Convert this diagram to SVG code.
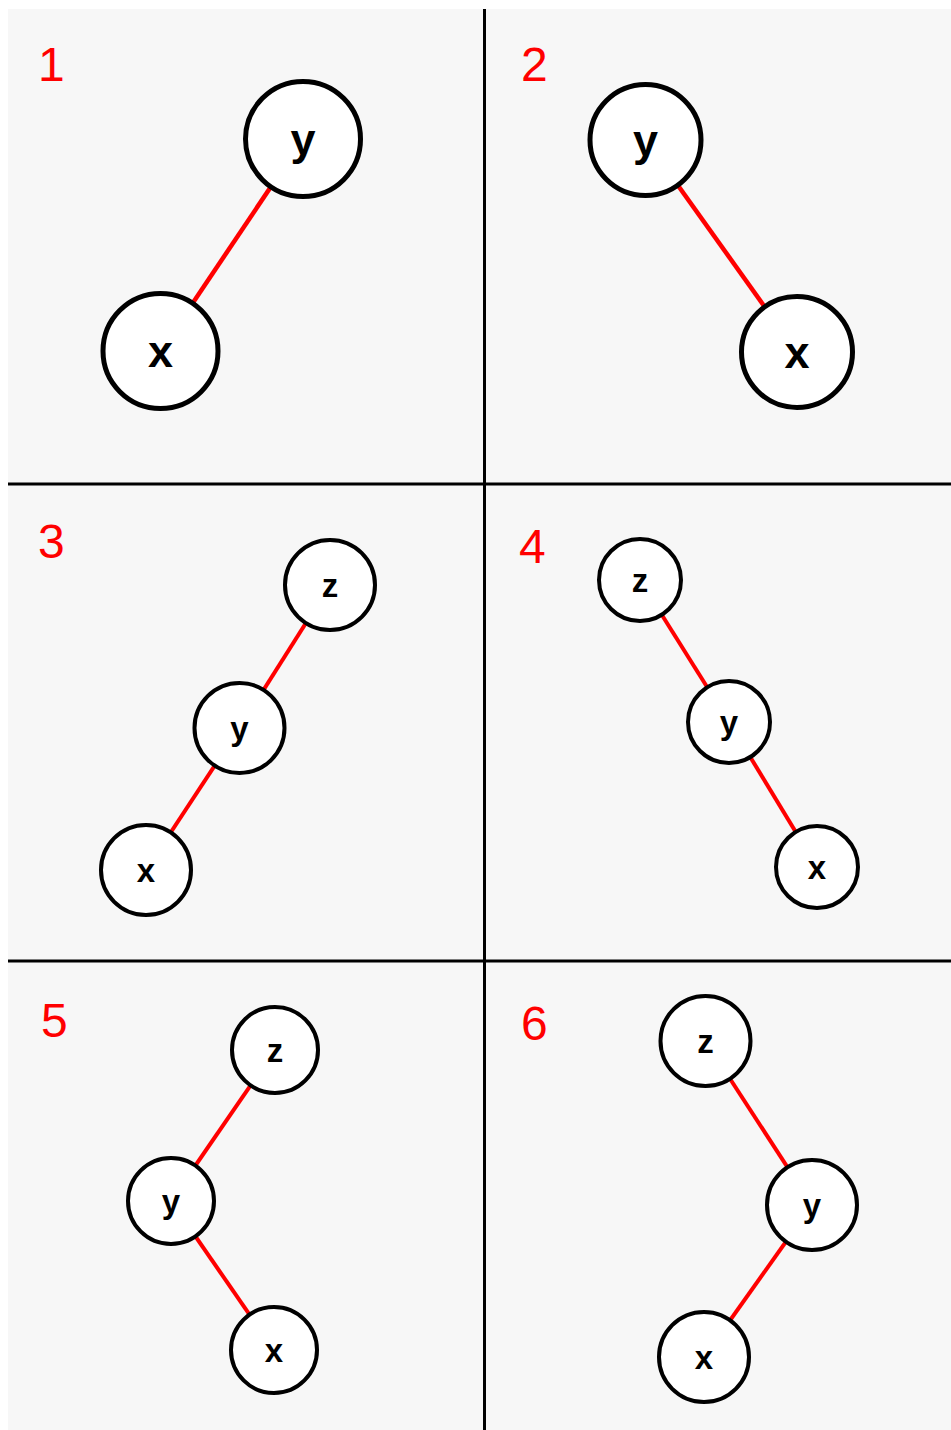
<svg xmlns="http://www.w3.org/2000/svg" width="951" height="1430" viewBox="0 0 951 1430">
<style>
.bg{fill:#f7f7f7}
.div{stroke:#000;stroke-width:3;fill:none}
.edge{stroke:#ff0000;stroke-width:4.5;fill:none}
.edge2{stroke:#ff0000;stroke-width:4;fill:none}
.big circle{fill:#fff;stroke:#000;stroke-width:5}
.sm circle{fill:#fff;stroke:#000;stroke-width:4}
.big text{font-family:"Liberation Sans",Arial,sans-serif;font-weight:bold;font-size:45px;text-anchor:middle;fill:#000}
.sm text{font-family:"Liberation Sans",Arial,sans-serif;font-weight:bold;font-size:33px;text-anchor:middle;fill:#000}
.num{font-family:"Liberation Sans",Arial,sans-serif;font-size:48px;fill:#ff0000}
</style>
<rect x="0" y="0" width="951" height="1430" fill="#fff"/>
<rect class="bg" x="8" y="9" width="943" height="1421"/>
<g id="dividers">
<line class="div" x1="484.5" y1="9" x2="484.5" y2="1430"/>
<line class="div" x1="8" y1="484" x2="951" y2="484"/>
<line class="div" x1="8" y1="961" x2="951" y2="961"/>
</g>
<g id="labels">
<text class="num" x="38" y="81">1</text>
<text class="num" x="521" y="81">2</text>
<text class="num" x="38" y="558">3</text>
<text class="num" x="519" y="563">4</text>
<text class="num" x="41" y="1037">5</text>
<text class="num" x="521" y="1040">6</text>
</g>
<g id="connectors">
<line class="edge" x1="303" y1="139" x2="160.5" y2="351"/>
<line class="edge" x1="645.5" y1="140" x2="797" y2="352"/>
<line class="edge2" x1="330" y1="585" x2="239.5" y2="728"/>
<line class="edge2" x1="239.5" y1="728" x2="146" y2="870"/>
<line class="edge2" x1="640" y1="580" x2="729" y2="722"/>
<line class="edge2" x1="729" y1="722" x2="817" y2="867"/>
<line class="edge2" x1="275" y1="1050" x2="171" y2="1201"/>
<line class="edge2" x1="171" y1="1201" x2="274" y2="1350"/>
<line class="edge2" x1="705.5" y1="1041" x2="812" y2="1205"/>
<line class="edge2" x1="812" y1="1205" x2="704" y2="1357"/>
</g>
<g id="p1-y" class="big"><circle cx="303" cy="139" r="57.5"/><text x="303" y="155">y</text></g>
<g id="p1-x" class="big"><circle cx="160.5" cy="351" r="57.5"/><text x="160.5" y="367">x</text></g>
<g id="p2-y" class="big"><circle cx="645.5" cy="140" r="55.5"/><text x="645.5" y="156">y</text></g>
<g id="p2-x" class="big"><circle cx="797" cy="352" r="55.5"/><text x="797" y="368">x</text></g>
<g id="p3-z" class="sm"><circle cx="330" cy="585" r="45"/><text x="330" y="597">z</text></g>
<g id="p3-y" class="sm"><circle cx="239.5" cy="728" r="45"/><text x="239.5" y="740">y</text></g>
<g id="p3-x" class="sm"><circle cx="146" cy="870" r="45"/><text x="146" y="882">x</text></g>
<g id="p4-z" class="sm"><circle cx="640" cy="580" r="41"/><text x="640" y="592">z</text></g>
<g id="p4-y" class="sm"><circle cx="729" cy="722" r="41"/><text x="729" y="734">y</text></g>
<g id="p4-x" class="sm"><circle cx="817" cy="867" r="41"/><text x="817" y="879">x</text></g>
<g id="p5-z" class="sm"><circle cx="275" cy="1050" r="43"/><text x="275" y="1062">z</text></g>
<g id="p5-y" class="sm"><circle cx="171" cy="1201" r="43"/><text x="171" y="1213">y</text></g>
<g id="p5-x" class="sm"><circle cx="274" cy="1350" r="43"/><text x="274" y="1362">x</text></g>
<g id="p6-z" class="sm"><circle cx="705.5" cy="1041" r="45"/><text x="705.5" y="1053">z</text></g>
<g id="p6-y" class="sm"><circle cx="812" cy="1205" r="45"/><text x="812" y="1217">y</text></g>
<g id="p6-x" class="sm"><circle cx="704" cy="1357" r="45"/><text x="704" y="1369">x</text></g>
</svg>
